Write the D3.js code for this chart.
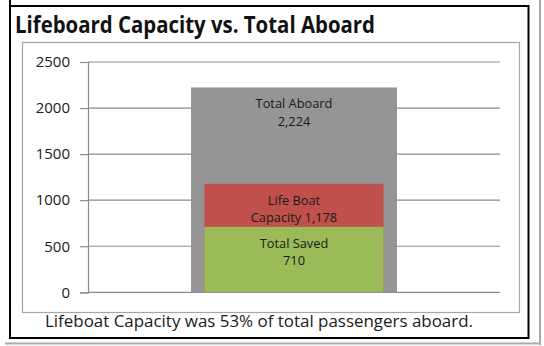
<!DOCTYPE html>
<html>
<head>
<meta charset="utf-8">
<script src="https://cdn.jsdelivr.net/npm/d3@7"></script>
<style>
  html, body { margin: 0; padding: 0; background: #fff; }
  svg { display: block; }
  text { font-family: "Open Sans", sans-serif; fill: #222; }
</style>
</head>
<body>
<div id="chart"></div>
<script>
// chart values
const categories = ['Titanic'];
const seriesNames = ['Total Aboard', 'Life Boat Capacity', 'Total Saved'];
const seriesValues = [2224, 1178, 710];
const labelLines = [['Total Aboard'], ['Life Boat', 'Capacity'], ['Total Saved']];
const seriesColors = ['#959595', '#c0504d', '#9bbb59'];
const yTicks = [0, 500, 1000, 1500, 2000, 2500];
const title = 'Lifeboard Capacity vs. Total Aboard';
const footnote = 'Lifeboat Capacity was 53% of total passengers aboard.';

(function(){
    const fullWidth = 544;
    const fullHeight = 346;

    const margin = { top: 62, left: 88, bottom: 53, right: 44 };
    const width = fullWidth - margin.left - margin.right;
    const height = fullHeight - margin.top - margin.bottom - 0.7;

    const root = d3.select('#chart')
        .append('svg')
            .attr('width', fullWidth)
            .attr('height', fullHeight);

    // screenshot frame + shadow
    root.append('line')
        .attr('x1', 540).attr('x2', 540).attr('y1', 0).attr('y2', 345)
        .style('stroke', '#aaa').style('stroke-width', 2);
    root.append('line')
        .attr('x1', 5).attr('x2', 541).attr('y1', 343.5).attr('y2', 343.5)
        .style('stroke', '#aaa').style('stroke-width', 2);
    root.append('line')
        .attr('x1', 10).attr('x2', 10).attr('y1', 0).attr('y2', 339)
        .style('stroke', '#000').style('stroke-width', 2);
    root.append('rect')
        .attr('x', 10).attr('y', 6)
        .attr('width', 518.5).attr('height', 332)
        .style('fill', 'none').style('stroke', '#000').style('stroke-width', 2);

    // plot area box
    root.append('rect')
        .attr('x', 22.5).attr('y', 42.5)
        .attr('width', 497).attr('height', 270)
        .style('fill', 'none').style('stroke', '#a6a6a6').style('stroke-width', 1.2);

    root.append('text')
        .attr('x', 15)
        .attr('y', 33)
        .attr('textLength', 360)
        .attr('lengthAdjust', 'spacingAndGlyphs')
        .style('font-size', '23.5px')
        .style('font-weight', 'bold')
        .style('fill', '#111')
        .text(title);

    root.append('text')
        .attr('x', 45)
        .attr('y', 327)
        .attr('textLength', 428)
        .attr('lengthAdjust', 'spacingAndGlyphs')
        .style('font-size', '16.5px')
        .style('fill', '#1a1a1a')
        .text(footnote);

    const svg = root.append('g')
        .attr('transform', `translate(${margin.left}, ${margin.top})`);

    const yScale = d3.scaleLinear()
        .domain([0, 2500])
        .range([height, 0]);

    const xScale = d3.scaleBand()
        .domain(categories)
        .range([0, width])
        .paddingInner(0)
        .paddingOuter(0.5);

    // gridlines
    svg.selectAll('.grid')
        .data(yTicks)
        .enter()
        .append('line')
            .attr('class', 'grid')
            .attr('x1', 0)
            .attr('x2', width)
            .attr('y1', d => yScale(d))
            .attr('y2', d => yScale(d))
            .style('stroke', '#8c8c8c')
            .style('stroke-width', 1.2);

    const yAxis = d3.axisLeft(yScale)
        .tickValues(yTicks)
        .tickSize(8)
        .tickPadding(10)
        .tickFormat(d3.format('d'));

    const gy = svg.append('g').call(yAxis);
    gy.select('.domain').style('stroke', '#8c8c8c').style('stroke-width', 1.2);
    gy.selectAll('.tick line').style('stroke', '#8c8c8c').style('stroke-width', 1.2);
    gy.selectAll('.tick text')
        .style('font-family', '"Open Sans", sans-serif')
        .style('font-size', '15px')
        .style('fill', '#1a1a1a');

    const fmt = d3.format(',');
    const bars = seriesValues.map((v, i) => ({
        name: seriesNames[i],
        value: v,
        color: seriesColors[i],
        lines: labelLines[i].length > 1
            ? [labelLines[i][0], labelLines[i][1] + ' ' + fmt(v)]
            : [labelLines[i][0], fmt(v)],
        inset: i === 0 ? 0 : xScale.bandwidth() * 0.065
    }));

    const groups = svg.selectAll('.bar')
        .data(bars)
        .enter()
        .append('g')
            .attr('class', 'bar');

    groups.append('rect')
        .attr('x', d => xScale(categories[0]) + d.inset)
        .attr('width', d => xScale.bandwidth() - d.inset * 2)
        .attr('y', d => yScale(d.value))
        .attr('height', d => yScale(0) - yScale(d.value))
        .style('fill', d => d.color);

    groups.each(function(d) {
        const t = d3.select(this).append('text')
            .style('text-anchor', 'middle')
            .style('font-size', '12.8px')
            .style('fill', '#1a1a1a');
        d.lines.forEach((line, j) => {
            t.append('tspan')
                .attr('x', xScale(categories[0]) + xScale.bandwidth() / 2)
                .attr('y', yScale(d.value) + 21 + j * 17.5)
                .text(line);
        });
    });
}())
</script>
</body>
</html>
